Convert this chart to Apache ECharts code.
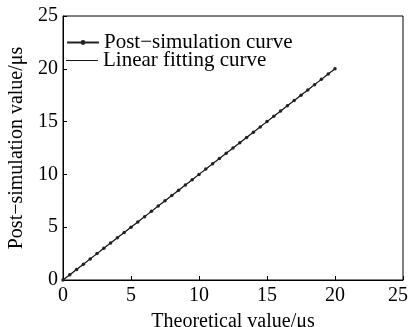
<!DOCTYPE html>
<html>
<head>
<meta charset="utf-8">
<script src="https://cdn.jsdelivr.net/npm/echarts@6/dist/echarts.min.js"></script>
<style>html,body{margin:0;padding:0;background:#fff;}#c{width:408px;height:327px;}</style>
</head>
<body>
<div id="c"></div>
<script>
const theoretical = [0,0.5,1,1.5,2,2.5,3,3.5,4,4.5,5,5.5,6,6.5,7,7.5,8,8.5,9,9.5,10,10.5,11,11.5,12,12.5,13,13.5,14,14.5,15,15.5,16,16.5,17,17.5,18,18.5,19,19.5,20];
const postSim = [0,0.5,1,1.5,2,2.5,3,3.5,4,4.5,5,5.5,6,6.5,7,7.5,8,8.5,9,9.5,10,10.5,11,11.5,12,12.5,13,13.5,14,14.5,15,15.5,16,16.5,17,17.5,18,18.5,19,19.5,20];
const fitX = [0, 20];
const fitY = [0, 20];
const ticks = [0, 5, 10, 15, 20, 25];
const seriesNames = ['Post\u2212simulation curve', 'Linear fitting curve'];
const xTitle = 'Theoretical value/\u03bcs';
const yTitle = 'Post\u2212simulation value/\u03bcs';

const font = 'Liberation Serif';
const chart = echarts.init(document.getElementById('c'), null, {renderer: 'canvas'});
const axisCommon = {
  type: 'value', min: ticks[0], max: ticks[ticks.length - 1], interval: 5,
  axisLine: {show: true, lineStyle: {color: '#000', width: 1}},
  axisTick: {show: true, inside: true, length: 4, lineStyle: {color: '#000'}},
  splitLine: {show: false},
  axisLabel: {color: '#000', fontFamily: font, fontSize: 20},
  nameLocation: 'middle',
  nameTextStyle: {color: '#000', fontFamily: font, fontSize: 20}
};
const legendText = {color: '#000', fontFamily: font, fontSize: 21, lineHeight: 18};
const lastTick = ticks[ticks.length - 1];
chart.setOption({
  animation: false,
  backgroundColor: '#fff',
  grid: {left: 63, right: 5, top: 16, bottom: 47, show: true, borderColor: '#000', borderWidth: 1,
         containLabel: false, outerBoundsMode: 'none'},
  legend: [
    {
      left: 66, top: 32, padding: 0, itemWidth: 32, itemHeight: 6,
      textStyle: legendText, data: [seriesNames[0]]
    },
    {
      left: 66, top: 50, padding: 0, itemWidth: 32, itemHeight: 1,
      textStyle: legendText,
      data: [{name: seriesNames[1], icon: 'rect', itemStyle: {color: '#111'}}]
    }
  ],
  xAxis: Object.assign({}, axisCommon, {name: xTitle, nameGap: 32,
    axisLabel: Object.assign({}, axisCommon.axisLabel, {
      margin: 6,
      formatter: v => v === lastTick ? '{r|' + v + '}' : String(v),
      rich: {r: {color: '#000', fontFamily: font, fontSize: 20, padding: [0, 10, 0, 0]}}
    })}),
  yAxis: Object.assign({}, axisCommon, {name: yTitle, nameGap: 32,
    axisLabel: Object.assign({}, axisCommon.axisLabel, {margin: 5})}),
  series: [
    {
      name: seriesNames[0], type: 'line',
      data: theoretical.map((x, i) => [x, postSim[i]]),
      symbol: 'circle', symbolSize: 3.5, showSymbol: true,
      lineStyle: {color: '#222', width: 1.2},
      itemStyle: {color: '#222'}, z: 3
    },
    {
      name: seriesNames[1], type: 'line',
      data: fitX.map((x, i) => [x, fitY[i]]),
      symbol: 'none',
      lineStyle: {color: '#333', width: 1},
      itemStyle: {color: '#333'}, z: 2
    }
  ]
});
</script>
</body>
</html>
